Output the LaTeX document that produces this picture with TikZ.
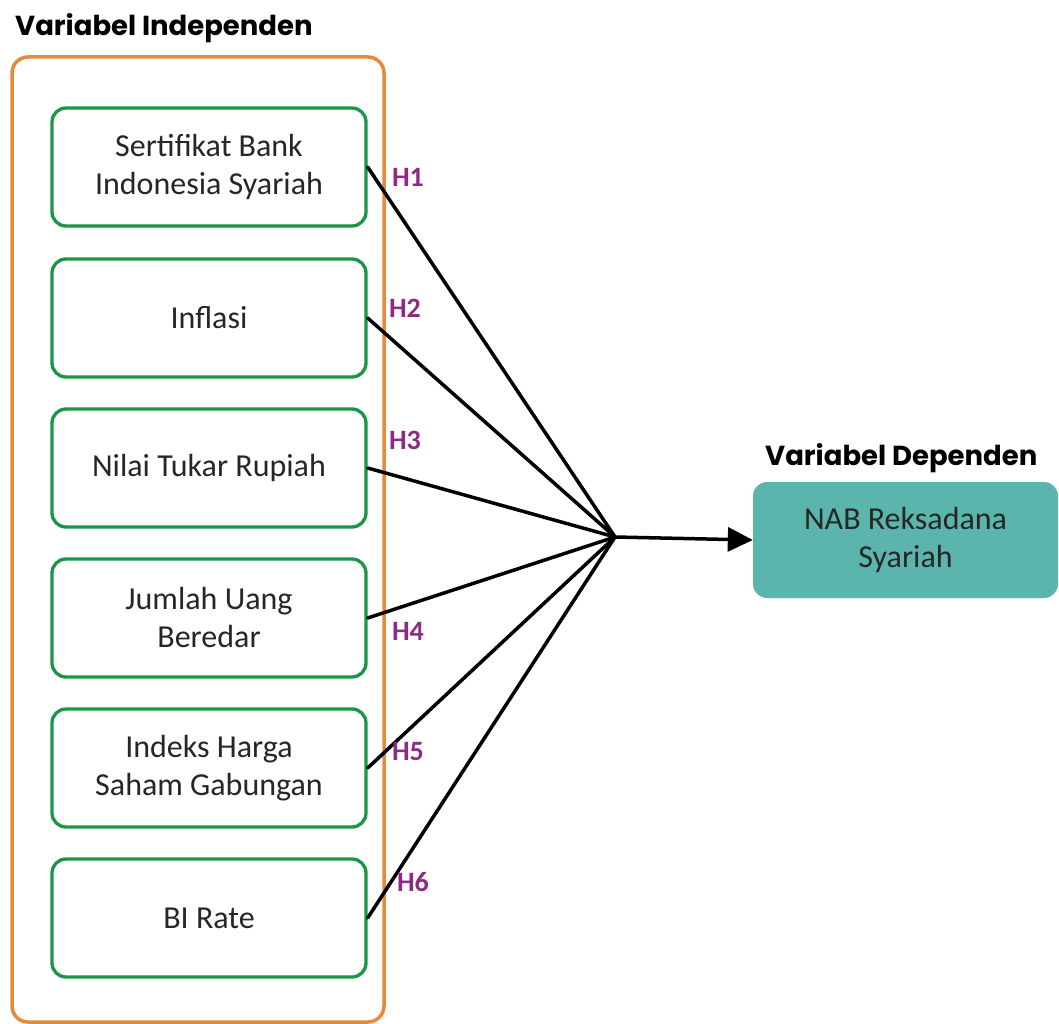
\documentclass[tikz,border=0pt]{standalone}
\usepackage{fontspec}
\setmainfont{Carlito}
\newfontfamily\headfont{Poppins}
\usepackage{xcolor}
\usepackage{tikz}
\usetikzlibrary{arrows.meta}

\definecolor{boxgreen}{RGB}{26,150,72}
\definecolor{frameorange}{RGB}{232,137,58}
\definecolor{depteal}{RGB}{92,181,173}
\definecolor{hypurple}{RGB}{142,42,132}

\begin{document}
\begin{tikzpicture}[x=1pt, y=-1pt,
  varbox/.style={draw=boxgreen, line width=3.3pt, rounded corners=14pt,
    minimum width=314pt, minimum height=118pt, align=center,
    text=black!85, font=\fontsize{32}{38}\selectfont},
  hyp/.style={text=hypurple, font=\fontsize{28}{30}\selectfont\bfseries},
  heading/.style={anchor=base west, inner sep=0,
    font=\headfont\fontsize{27.5}{30}\selectfont\bfseries},
  link/.style={line width=3.5pt, line cap=round}]

  \useasboundingbox[fill=white] (0,0) rectangle (1059,1024);

  % Independent variables
  \node[heading] (indeptitle) at (15,36) {Variabel Independen};
  \node[draw=frameorange, line width=3.5pt, rounded corners=16pt,
    minimum width=372pt, minimum height=965pt] (indep) at (198,539.5) {};

  \node[varbox] (sbis) at (209,167) {Sertifikat Bank\\Indonesia Syariah};
  \node[varbox] (inflasi) at (209,318) {Inflasi};
  \node[varbox] (kurs) at (209,468) {Nilai Tukar Rupiah};
  \node[varbox] (jub) at (209,618) {Jumlah Uang\\Beredar};
  \node[varbox] (ihsg) at (209,768) {Indeks Harga\\Saham Gabungan};
  \node[varbox] (birate) at (209,918) {BI Rate};

  % Dependent variable
  \node[heading] (deptitle) at (765,465) {Variabel Dependen};
  \node[fill=depteal, rounded corners=14pt, minimum width=305pt,
    minimum height=116pt, align=center, text=black!85,
    font=\fontsize{32}{38}\selectfont] (nab) at (905.5,540)
    {NAB Reksadana\\Syariah};

  % Hypotheses
  \coordinate (hub) at (615,537);
  \draw[link] (sbis.east) -- (hub);
  \draw[link] (inflasi.east) -- (hub);
  \draw[link] (kurs.east) -- (hub);
  \draw[link] (jub.east) -- (hub);
  \draw[link] (ihsg.east) -- (hub);
  \draw[link] (birate.east) -- (hub);
  \draw[link, -{Triangle[length=25pt, width=24pt]}] (hub) -- (nab.west);

  \node[hyp] (h1) at (408,177) {H1};
  \node[hyp] (h2) at (405,308) {H2};
  \node[hyp] (h3) at (405,440) {H3};
  \node[hyp] (h4) at (408,631) {H4};
  \node[hyp] (h5) at (408,752) {H5};
  \node[hyp] (h6) at (413,882) {H6};
\end{tikzpicture}
\end{document}
